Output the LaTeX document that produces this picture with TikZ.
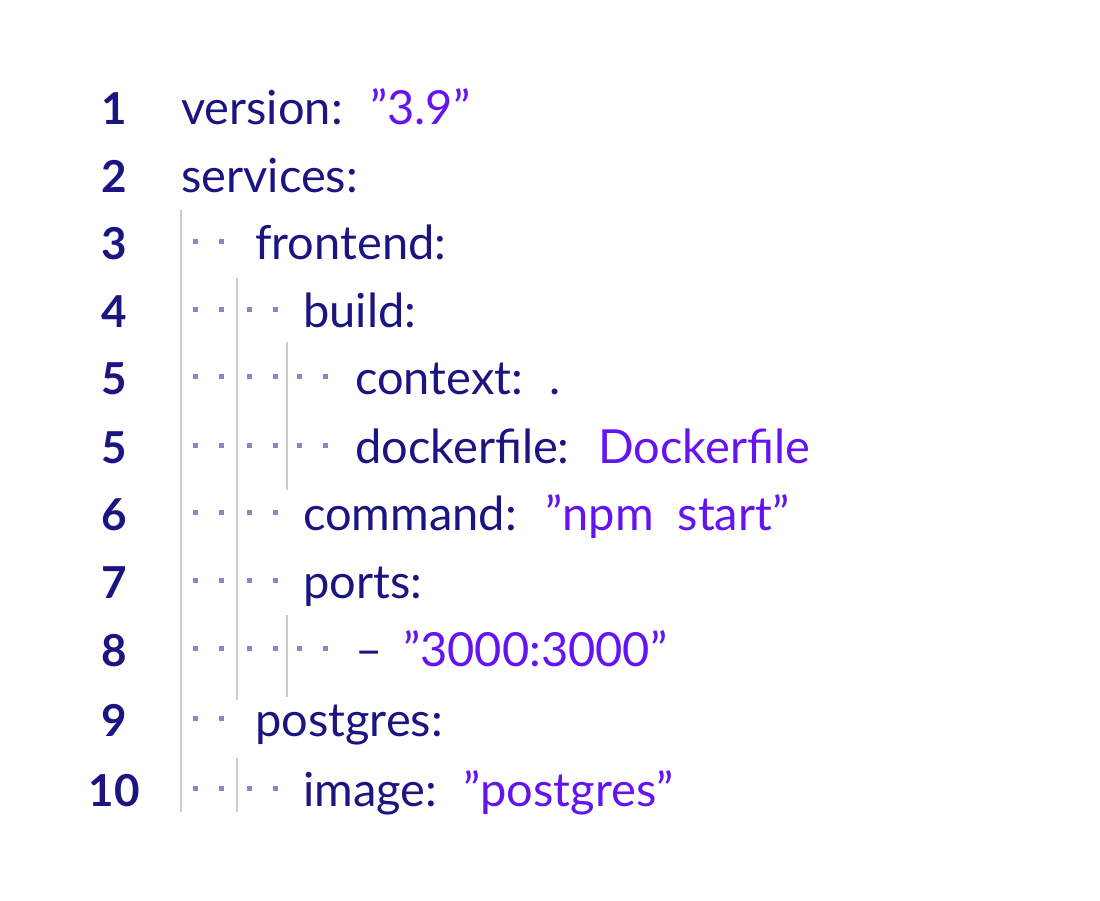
\documentclass[tikz,border=0pt]{standalone}
\usepackage{fontspec}
\setmainfont{Lato}
\definecolor{keyc}{HTML}{1C1480}
\definecolor{strc}{HTML}{6414F0}
\definecolor{dotc}{HTML}{9085C2}
\definecolor{guide}{HTML}{CCCCCC}
\newcommand{\qq}{\char"22\relax}
\begin{document}
\begin{tikzpicture}[x=1pt,y=-1pt,
  num/.style={anchor=base,font=\fontsize{44}{44}\selectfont\bfseries,text=keyc,inner sep=0},
  key/.style={anchor=base west,font=\fontsize{47}{47}\selectfont,text=keyc,inner sep=0},
  str/.style={anchor=base west,font=\fontsize{47}{47}\selectfont,text=strc,inner sep=0},
  dotb/.style={fill=dotc,draw=none,minimum size=5pt,inner sep=0},
  gline/.style={draw=guide,line width=1.2pt}]
\useasboundingbox (0,0) rectangle (1100,900);
% line numbers
\foreach \n/\y [count=\i] in {1/108,2/176,3/243,4/311,5/378,5/447,6/514,7/582,8/650,9/720,10/790}
  \node[num] (n\i) at (114,\y+16) {\n};
% guides
\draw[gline] (181,210) coordinate (g1a) -- (181,812) coordinate (g1b);
\draw[gline] (237,278) coordinate (g2a) -- (237,700) coordinate (g2b);
\draw[gline] (237,758) coordinate (g3a) -- (237,812) coordinate (g3b);
\draw[gline] (287,342) coordinate (g4a) -- (287,490) coordinate (g4b);
\draw[gline] (287,615) coordinate (g5a) -- (287,697) coordinate (g5b);
% dots
\foreach \y/\k [count=\r] in {243/2,311/4,378/6,447/6,514/4,582/4,650/6,720/2,790/4}{
  \foreach \x [count=\j] in {195,221,249,275,299,325}{
    \ifnum\j>\k\else \node[dotb] (d\r-\j) at (\x,\y-2) {};\fi
  }}
% text
\node[key] (t1) at (181,124) {version:};
\node[str] (s1) at (370,124) {\qq3.9\qq};
\node[key] (t2) at (181,192) {services:};
\node[key] (t3) at (255,259) {frontend:};
\node[key] (t4) at (303,327) {build:};
\node[key] (t5) at (355,394) {context:};
\node[key] (s5) at (549,394) {.};
\node[key] (t6) at (355,463) {dockerfile:};
\node[str] (s6) at (598,463) {Dockerfile};
\node[key] (t7) at (303,530) {command:};
\node[str] (s7) at (545,530) {\qq npm\ \ start\qq};
\node[key] (t8) at (303,598) {ports:};
\node[key] (t9) at (355,666) {–};
\node[str] (s9) at (403,666) {\qq3000:3000\qq};
\node[key] (t10) at (255,736) {postgres:};
\node[key] (t11) at (303,806) {image:};
\node[str] (s11) at (463,806) {\qq postgres\qq};
\end{tikzpicture}
\end{document}
